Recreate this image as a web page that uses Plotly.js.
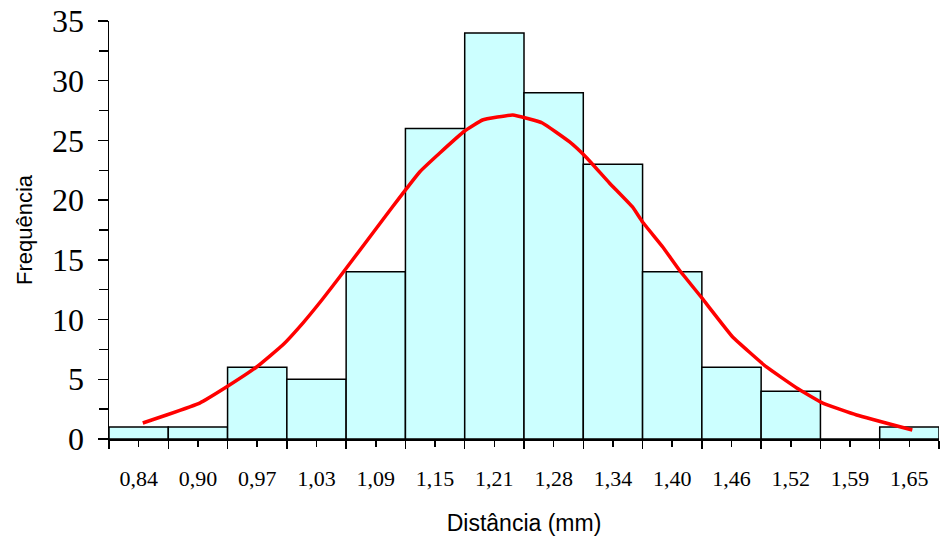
<!DOCTYPE html>
<html>
<head>
<meta charset="utf-8">
<script src="https://cdn.plot.ly/plotly-3.0.1.min.js"></script>
<style>html,body{margin:0;padding:0;background:#fff}#chart{width:940px;height:543px}</style>
</head>
<body>
<div id="chart"></div>
<script>
const categories = ["0,84","0,90","0,97","1,03","1,09","1,15","1,21","1,28","1,34","1,40","1,46","1,52","1,59","1,65"];
const frequencies = [1, 1, 6, 5, 14, 26, 34, 29, 23, 14, 6, 4, 0, 1];
// Fitted normal curve (x in bin-index units, y in frequency)
const curveX = [0.07,0.47,1.03,1.48,1.99,2.43,2.77,3.09,3.39,3.95,4.28,4.74,5.08,5.50,5.80,6.31,6.81,7.27,7.56,7.94,8.33,8.50,8.84,9.12,9.50,10.02,10.59,11.10,11.54,12.11,13.05];
const curveY = [1.34,2.01,3.01,4.35,6.03,7.87,9.71,11.64,13.56,17.25,19.43,22.36,23.95,25.79,26.71,27.13,26.46,24.87,23.53,21.44,19.43,18.17,16.08,14.15,11.81,8.54,6.03,4.27,3.01,2.01,0.75];
const yTicks = [0,5,10,15,20,25,30,35];

const idx = categories.map((_, i) => i);
const edges = categories.map((_, i) => i - 0.5).concat([categories.length - 0.5]);

const traces = [
  {
    type: 'bar', x: idx, y: frequencies, width: 1,
    marker: {color: '#CCFFFF', line: {color: '#000000', width: 1.5}},
    hoverinfo: 'skip', showlegend: false
  },
  {
    type: 'scatter', mode: 'lines', x: curveX, y: curveY,
    line: {color: '#FF0000', width: 3.5, shape: 'spline', smoothing: 0.3},
    hoverinfo: 'skip', showlegend: false
  }
];

const layout = {
  width: 940, height: 543,
  margin: {l: 109, r: 1, t: 21, b: 104, pad: 0},
  paper_bgcolor: '#ffffff', plot_bgcolor: '#ffffff',
  bargap: 0,
  showlegend: false,
  xaxis: {
    range: [-0.5, categories.length - 0.5],
    tickmode: 'array', tickvals: idx, ticktext: categories,
    ticks: 'outside', ticklen: 6, tickwidth: 1.5, tickcolor: '#000',
    ticklabelstandoff: 13,
    minor: {tickmode: 'array', tickvals: edges, ticks: 'outside', ticklen: 8, tickwidth: 1.5, tickcolor: '#000', showgrid: false},
    showline: true, linecolor: '#000', linewidth: 1.5,
    showgrid: false, zeroline: false,
    tickfont: {family: 'Liberation Serif, Times New Roman, serif', size: 22, color: '#000'},
    title: {text: 'Distância (mm)', font: {family: 'Liberation Sans, Arial, sans-serif', size: 23, color: '#000'}, standoff: 25}
  },
  yaxis: {
    range: [0, 35],
    tickmode: 'array', tickvals: yTicks, ticktext: yTicks.map(String),
    ticks: 'outside', ticklen: 10, tickwidth: 1.5, tickcolor: '#000',
    minor: {tickmode: 'linear', tick0: 2.5, dtick: 5, ticks: 'outside', ticklen: 9, tickwidth: 1.5, tickcolor: '#000', showgrid: false},
    showline: true, linecolor: '#000', linewidth: 1.5,
    showgrid: false, zeroline: false,
    ticklabelstandoff: 7,
    tickfont: {family: 'Liberation Serif, Times New Roman, serif', size: 32, color: '#000'},
    title: {text: 'Frequência', font: {family: 'Liberation Sans, Arial, sans-serif', size: 22, color: '#000'}, standoff: 13}
  }
};

Plotly.newPlot('chart', traces, layout, {staticPlot: true, displayModeBar: false});
</script>
</body>
</html>
